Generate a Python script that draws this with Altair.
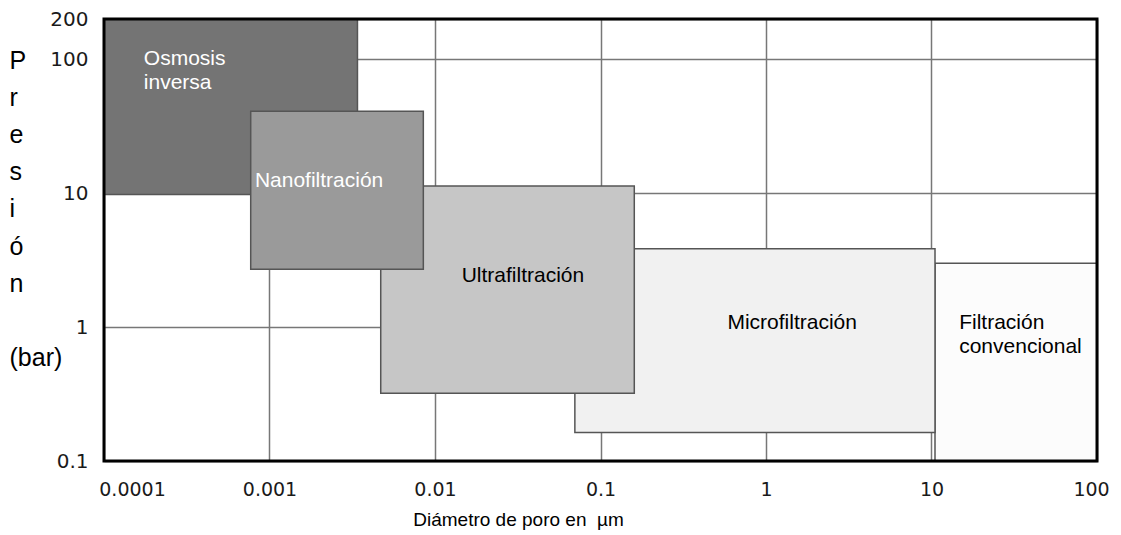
import altair as alt
import pandas as pd

# ---- data ----
box_names = ["Osmosis inversa", "Filtración convencional", "Microfiltración",
             "Ultrafiltración", "Nanofiltración"]
box_x1 = [0.0001, 10.5, 0.07, 0.0047, 0.00077]
box_x2 = [0.0034, 100, 10.5, 0.16, 0.0085]
box_y1 = [9.8, 0.1, 0.163, 0.32, 2.7]
box_y2 = [200, 3.0, 3.84, 11.3, 41]

label_text = ["Osmosis\ninversa", "Nanofiltración", "Ultrafiltración",
              "Microfiltración", "Filtración\nconvencional"]
label_x = [0.000174, 0.000816, 0.034, 1.44, 14.7]
label_y = [90, 11.2, 2.17, 0.966, 0.96]
label_group = ["white_left", "white_left", "black_center", "black_center", "black_left"]

x_ticks = [0.0001, 0.001, 0.01, 0.1, 1, 10, 100]
y_ticks = [0.1, 1, 10, 100, 200]

box_colors = ["#747474", "#fcfcfc", "#f1f1f1", "#c6c6c6", "#9a9a9a"]

W, H = 993, 442

boxes = pd.DataFrame({"name": box_names, "x1": box_x1, "x2": box_x2,
                      "y1": box_y1, "y2": box_y2})
labels = pd.DataFrame({"text": label_text, "x": label_x, "y": label_y,
                       "grp": label_group})

xscale = alt.Scale(type="log", domain=[0.0001, 100], nice=False)
yscale = alt.Scale(type="log", domain=[0.1, 200], nice=False)

NB = "\u00a0"
BLANK = "\u2800"

x_axis = alt.Axis(
    values=x_ticks, format="~g", grid=True, gridColor="#777777", gridWidth=1.5,
    domain=False, ticks=False, tickSize=0, labelPadding=19,
    labelFont="DejaVu Sans", labelFontSize=19, labelColor="#1a1a1a",
    labelFlush=False, labelOverlap=False,
    labelOffset={"expr": "datum.value < 0.0005 ? 28 : (datum.value > 50 ? -6 : 0)"},
    title="Diámetro de poro en" + NB + NB + "µm", titleFont="Liberation Sans",
    titleFontSize=19, titleFontWeight="normal", titleColor="#000000",
    titleX=414, titleY=64, titleAlign="center", titleBaseline="alphabetic",
)
y_axis = alt.Axis(
    values=y_ticks, format="~g", grid=True, gridColor="#777777", gridWidth=1.5,
    domain=False, ticks=False, tickSize=0, labelPadding=16,
    labelFont="DejaVu Sans", labelFontSize=20, labelColor="#1a1a1a",
    labelOverlap=False, labelFlush=False,
    title=["P", "r", "e", "s", "i", "ó", "n", BLANK, "(bar)"],
    titleFont="Liberation Sans", titleFontSize=25, titleFontWeight="normal",
    titleColor="#000000", titleAngle=0, titleAlign="left",
    titleBaseline="alphabetic", titleLineHeight=37.2, titleX=-95, titleY=49,
)

rects = alt.Chart(boxes).mark_rect(stroke="#555555", strokeWidth=1.5).encode(
    x=alt.X("x1:Q", scale=xscale, axis=x_axis),
    x2="x2:Q",
    y=alt.Y("y1:Q", scale=yscale, axis=y_axis),
    y2="y2:Q",
    fill=alt.Fill("name:N", scale=alt.Scale(domain=box_names, range=box_colors),
                  legend=None),
)

def text_layer(grp, align, color):
    return alt.Chart(labels).transform_filter(
        alt.datum.grp == grp
    ).mark_text(
        align=align, baseline="alphabetic", font="Liberation Sans",
        fontSize=21, lineBreak="\n", lineHeight=24, color=color,
    ).encode(
        x=alt.X("x:Q", scale=xscale),
        y=alt.Y("y:Q", scale=yscale),
        text="text:N",
    )

t1 = text_layer("white_left", "left", "#ffffff")
t2 = text_layer("black_center", "center", "#000000")
t3 = text_layer("black_left", "left", "#000000")

frame = alt.Chart(alt.Data(values=[{"f": 1}])).mark_rect(
    filled=False, stroke="#000000", strokeWidth=3
).encode(
    x=alt.value(0), x2=alt.value(W), y=alt.value(0), y2=alt.value(H)
)

chart = alt.layer(rects, t1, t2, t3, frame).properties(
    width=W, height=H,
    autosize=alt.AutoSizeParams(type="none"),
    padding={"left": 96, "top": 11, "right": 16, "bottom": 72},
    background="#ffffff",
).configure_view(stroke=None)

chart.save("out.html", embed_options={"renderer": "svg", "actions": False})
